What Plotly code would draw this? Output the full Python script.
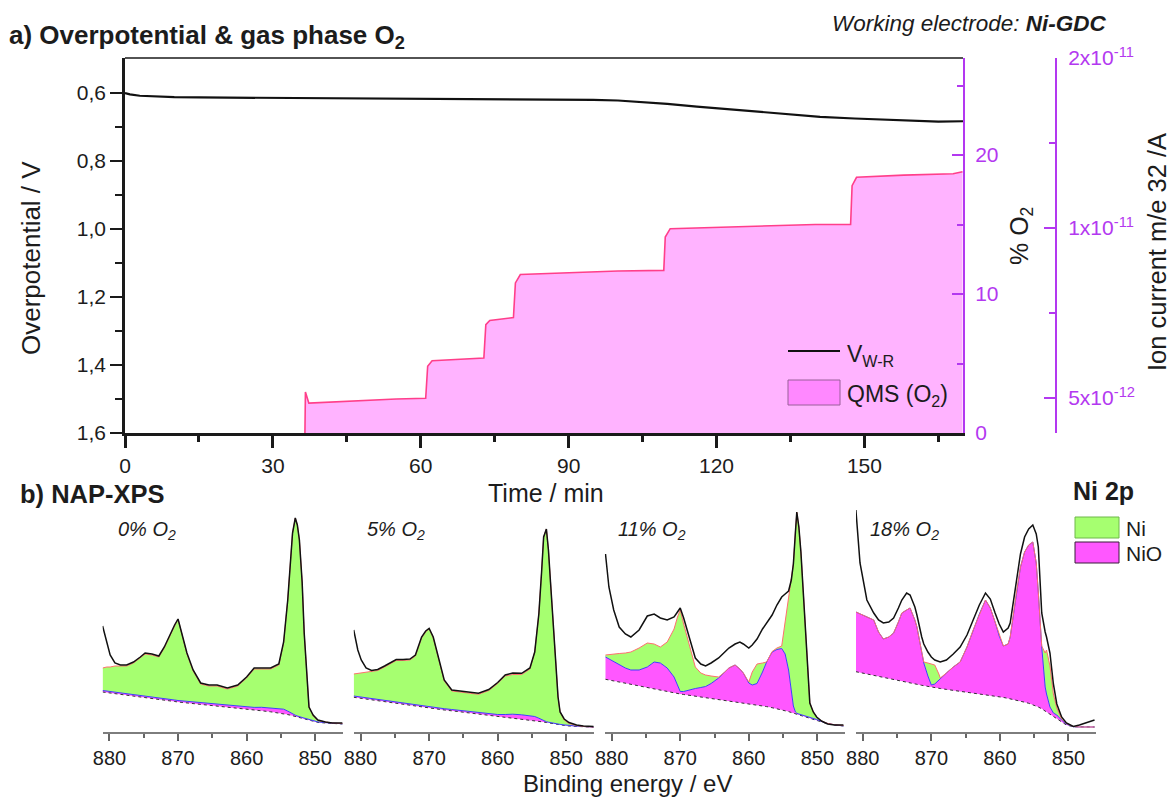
import plotly.graph_objects as go

W, H = 1173, 798
FONT = "Liberation Sans, Arial, Helvetica, sans-serif"
PURPLE = "#b338f0"
INK = "#1c1c1c"
GREEN = "#a6ff70"
MAGENTA = "#ff57ff"
NIO_LINE = "#3d3dff"
NI_LINE = "#ff6f6f"

# ---------------- a) overpotential & gas phase O2 ----------------
time_v = [0, 1, 3, 6, 10, 15, 25, 35, 45, 55, 65, 75, 85, 95, 100, 105, 110, 116,
          122, 128, 134, 141, 148, 154, 160, 165, 170]
overpot = [0.600, 0.604, 0.608, 0.610, 0.612, 0.613, 0.614, 0.615, 0.615, 0.616,
           0.616, 0.617, 0.618, 0.620, 0.622, 0.626, 0.632, 0.640, 0.647, 0.654,
           0.661, 0.670, 0.675, 0.678, 0.681, 0.684, 0.683]

time_qms = [36.5, 36.6, 37.3, 45, 55, 61.0, 61.4, 62.3, 68, 72.8, 73.2, 74.0, 78.8,
            79.2, 80.2, 90, 100, 109.3, 109.6, 110.6, 125, 140, 147.2, 147.5, 148.4,
            158, 168, 169.9]
o2_pct = [0, 2.95, 2.15, 2.3, 2.45, 2.5, 4.8, 5.2, 5.3, 5.4, 7.8, 8.1, 8.3, 10.8,
          11.4, 11.55, 11.65, 11.7, 14.1, 14.7, 14.85, 15.0, 15.0, 17.8, 18.4, 18.55,
          18.65, 18.8]

volt_ticks = [0.6, 0.8, 1.0, 1.2, 1.4, 1.6]
volt_labels = ["0,6", "0,8", "1,0", "1,2", "1,4", "1,6"]
time_ticks = [0, 30, 60, 90, 120, 150]
ion_ticks = [5e-12, 1e-11, 2e-11]
ion_labels = ["5x10<sup>-12</sup>", "1x10<sup>-11</sup>", "2x10<sup>-11</sup>"]

# ---------------- b) NAP-XPS Ni 2p spectra ----------------
panel_labels = ["0% O<sub>2</sub>", "5% O<sub>2</sub>", "11% O<sub>2</sub>", "18% O<sub>2</sub>"]
be_ticks = [880, 870, 860, 850]

be_0 = [881.0, 880.4, 879.9, 879.2, 878.4, 877.5, 876.5, 875.5, 874.8, 873.8, 872.8,
        872.0, 871.1, 870.5, 870.0, 869.4, 868.7, 867.8, 866.7, 865.5, 864.3, 862.8,
        861.3, 860.0, 858.9, 857.8, 856.5, 855.3, 854.6, 854.0, 853.6, 853.3, 852.9,
        852.6, 852.3, 851.9, 851.6, 851.2, 850.9, 850.3, 849.6, 848.5, 847.5, 846.0]
env_0 = [106, 89, 77, 69, 67, 67, 70, 75, 79, 78, 76, 85, 99, 107, 113, 98, 79, 62, 49,
         47, 47, 44, 47, 55, 64, 64, 64, 68, 90, 132, 175, 199, 214, 207, 192, 150, 99,
         55, 25, 17, 12, 10, 9, 9]
ni_0 = [64, 65, 65, 66, 66, 66, 69, 74, 78, 77, 75, 84, 98, 106, 113, 97, 78, 61, 48,
        46, 46, 43, 46, 54, 63, 63, 63, 67, 89, 132, 175, 199, 214, 207, 192, 150, 99,
        55, 25, 16, 11.5, 10, 9, 8.5]
nio_0 = [41.5, 41, 40.5, 40, 39, 38.3, 37.4, 36.5, 35.9, 35, 34.1, 33.3, 32.5, 32, 31.5,
         31.1, 30.6, 30, 29.2, 28.4, 27.5, 26.5, 25.5, 25, 24.6, 24.7, 24.2, 23.7, 22.8,
         20.9, 19.3, 17.8, 16.8, 16, 15.2, 14.5, 13.9, 13.2, 12.5, 11.2, 10.1, 9.4, 8.8, 8.2]
bg_0 = [40, 39.5, 39, 38.4, 37.6, 36.8, 35.9, 35, 34.4, 33.5, 32.6, 31.8, 31, 30.5, 30,
        29.6, 29.1, 28.5, 27.7, 26.9, 26, 25, 23.9, 23, 22.1, 21.2, 20.2, 19.2, 18.3,
        17.4, 16.8, 16.3, 15.6, 15, 14.4, 13.7, 13.1, 12.4, 11.8, 10.6, 9.6, 9, 8.5, 8]

be_5 = be_0
env_5 = [102, 82, 72, 64, 61.5, 62.5, 66, 70, 72.5, 72.5, 73, 77, 95, 101, 103.5, 95, 76,
         52, 42, 41, 40, 38.7, 42.5, 49.5, 57, 59, 58.7, 64, 80, 118, 160, 195, 203, 182,
         150, 108, 70, 35, 20, 13, 9.5, 7, 6, 5.5]
ni_5 = [58, 58.5, 59, 59.5, 60, 61.5, 65, 69, 71.5, 71.5, 72, 76, 94, 100, 103.5, 94, 75,
        51, 41, 40, 39, 37.7, 41.5, 48.5, 56, 57.5, 57.5, 63, 80, 118, 160, 195, 203, 182,
        150, 108, 70, 35, 20, 12, 8.5, 6.5, 5.5, 5]
nio_5 = [36, 35.4, 34.9, 34.3, 33.5, 32.6, 31.6, 30.6, 29.9, 28.9, 27.9, 27.1, 26.2, 25.6,
         25, 24.5, 23.9, 23.3, 22.5, 21.5, 20.6, 19.5, 18.3, 17.5, 17.5, 17.8, 17.2, 16.5,
         15.5, 13.8, 12.3, 11.2, 10.3, 9.8, 9.3, 8.9, 8.5, 8.1, 7.6, 7.1, 6.4, 5.9, 5.5, 5]
bg_5 = [34.7, 34.1, 33.6, 33, 32.2, 31.3, 30.3, 29.3, 28.6, 27.6, 26.6, 25.8, 24.9, 24.3,
        23.7, 23.2, 22.6, 22, 21.2, 20.2, 19.3, 18.2, 17, 16, 15.2, 14.4, 13.4, 12.3, 11.5,
        10.8, 10.3, 10, 9.5, 9.1, 8.7, 8.3, 7.9, 7.5, 7.1, 6.6, 6, 5.5, 5.2, 4.8]

be_11 = [880.9, 880.4, 879.7, 878.9, 878.0, 877.2, 876.0, 874.8, 873.8, 872.9, 871.9,
         870.9, 870.4, 870.0, 869.5, 869.0, 868.4, 867.8, 867.0, 866.3, 865.5, 864.4,
         863.5, 862.9, 862.0, 861.3, 860.8, 860.0, 859.5, 858.8, 858.0, 857.4, 856.6,
         855.9, 855.2, 854.7, 854.2, 853.8, 853.5, 853.2, 853.0, 852.7, 852.4, 852.1,
         851.8, 851.4, 851.1, 850.6, 850.1, 849.4, 848.5, 847.5, 846.2]
env_11 = [178, 145, 122, 105, 98, 95, 102, 116, 118, 114, 112, 115, 120, 124, 114, 102,
          87, 74, 68, 66, 69, 74, 80, 84, 88, 90, 88, 84, 87, 93, 103, 109, 117, 127, 135,
          138, 141, 152, 168, 200, 220, 205, 180, 145, 108, 62, 29, 20, 15, 11, 8, 7, 7]
ni_11 = [77, 77.5, 78, 78.5, 79, 80, 84, 89, 88, 85, 90, 103, 115, 122, 108, 95, 80, 65,
         59, 57, 56, 55, 60, 64, 67, 63, 59, 50, 60, 68, 69, 70, 80.5, 84, 86, 110, 138,
         152, 168, 200, 220, 205, 180, 145, 108, 62, 29, 20, 15, 11, 8.6, 7.3, 6.5]
nio_11 = [75, 73, 71, 67, 64, 62, 62, 65, 70, 69, 64, 55, 46, 40.5, 40.5, 41.5, 42.5, 43.5,
          44.5, 45.5, 48.5, 54, 60, 64, 67, 63, 59, 49, 47, 48.5, 60, 70, 80, 82.5, 83.5,
          78, 62, 40, 26, 20, 18.8, 18, 17.4, 16.8, 16.2, 15.4, 14.7, 13.6, 12.5, 10.6,
          8.5, 7.2, 6.1]
bg_11 = [52.7, 52, 51, 50, 48.7, 47.6, 46, 44.3, 43, 41.8, 40.5, 39.2, 38.5, 38, 37.5, 37,
         36.5, 35.9, 35.2, 34.5, 33.8, 32.8, 31.9, 31.4, 30.5, 29.9, 29.4, 28.7, 28.1, 27.2,
         26.3, 25.4, 24.3, 23.3, 22.3, 21.4, 20.4, 19.5, 18.9, 18.3, 17.8, 17.2, 16.6, 16,
         15.4, 14.6, 14, 13, 12, 10.2, 8.2, 7, 6]

be_18 = [881.0, 880.4, 879.4, 878.4, 877.7, 877.0, 876.2, 875.5, 874.8, 874.3, 873.6,
         873.1, 872.4, 872.1, 871.4, 871.1, 870.5, 870.0, 869.5, 868.9, 868.7, 867.8,
         866.8, 865.8, 864.8, 863.9, 863.0, 862.1, 861.4, 860.7, 860.1, 859.5, 858.8,
         858.5, 857.6, 857.0, 856.4, 855.8, 855.2, 854.7, 854.4, 853.9, 853.4, 853.2,
         852.7, 852.2, 851.7, 851.2, 851.0, 850.3, 849.3, 848.4, 847.4, 846.2]
env_18 = [222, 169, 132, 119, 112, 109, 110, 114, 124, 132, 139, 137, 125, 117, 95, 88, 80,
          75, 72, 70, 70, 72, 78, 85, 97, 112, 127, 139, 133, 119, 108, 100, 104, 109, 152,
          178, 195, 203, 207, 198, 185, 119, 100, 95, 79, 48, 28, 17, 15, 9, 5.5, 7, 9, 12]
ni_18 = [120, 118, 115, 112, 100, 93, 95, 99, 110, 119, 122, 124, 112, 105, 80, 70, 69,
         68, 67, 58, 54, 59, 65, 70, 85, 102, 118, 132, 124, 110, 96, 86, 88, 95, 139, 165,
         180, 187, 190, 169, 140, 86, 79, 82, 66, 38, 24, 15, 13, 8.5, 5.5, 5, 5, 5]
nio_18 = [120, 118, 115, 112, 100, 93, 95, 99, 110, 119, 122, 124, 112, 105, 80, 69, 56,
          47, 48, 52, 54, 59, 65, 70, 85, 102, 118, 132, 124, 110, 96, 86, 88, 95, 139, 165,
          180, 187, 190, 169, 140, 85, 45, 38, 25, 19, 17, 13, 12, 8, 5.3, 5, 5, 5]
bg_18 = [60.3, 59.4, 58, 56.6, 55.6, 54.6, 53.5, 52.5, 51.5, 50.8, 49.8, 49.1, 48.1, 47.7,
         46.7, 46.3, 45.4, 44.7, 44.2, 43.7, 43.5, 42.6, 41.7, 40.8, 39.9, 39, 38.2, 37.3,
         36.6, 36, 35.4, 34.6, 33.6, 33.2, 31.8, 30.8, 29.8, 28.7, 27.4, 26, 25, 23.2, 21,
         20, 17.5, 15.3, 13, 10.8, 10, 7, 5.3, 5, 5, 5]

spectra = [
    (be_0, env_0, ni_0, nio_0, bg_0),
    (be_5, env_5, ni_5, nio_5, bg_5),
    (be_11, env_11, ni_11, nio_11, bg_11),
    (be_18, env_18, ni_18, nio_18, bg_18),
]


def fx(x):
    return x / W


def fy(y):
    return 1 - y / H


fig = go.Figure()

# overpotential (left axis, reversed)
fig.add_trace(go.Scatter(x=time_v, y=overpot, mode="lines", xaxis="x", yaxis="y",
                         line=dict(color="#111111", width=2.2), showlegend=False))
# QMS O2 signal (% O2 axis)
fig.add_trace(go.Scatter(x=time_qms, y=o2_pct, mode="lines", xaxis="x", yaxis="y2",
                         fill="tozeroy", fillcolor="#ffb3ff",
                         line=dict(color="#ff3f8a", width=1.6), showlegend=False))
# ion-current axis carrier
fig.add_trace(go.Scatter(x=[None], y=[None], xaxis="x", yaxis="y3", showlegend=False,
                         hoverinfo="skip"))

# XPS panels
panel_x0 = [102.6, 353.7, 604.8, 855.9]
panel_w = 240
for i, (be, env, ni, nio, bg) in enumerate(spectra):
    xa = "x%d" % (i + 2)
    ya = "y%d" % (i + 4)
    fig.add_trace(go.Scatter(x=be, y=bg, mode="lines", xaxis=xa, yaxis=ya,
                             line=dict(color="#333333", width=1, dash="dot"),
                             showlegend=False))
    fig.add_trace(go.Scatter(x=be, y=nio, mode="lines", xaxis=xa, yaxis=ya,
                             fill="tonexty", fillcolor=MAGENTA,
                             line=dict(color=NIO_LINE, width=1), showlegend=False))
    fig.add_trace(go.Scatter(x=be, y=ni, mode="lines", xaxis=xa, yaxis=ya,
                             fill="tonexty", fillcolor=GREEN,
                             line=dict(color=NI_LINE, width=1), showlegend=False))
    fig.add_trace(go.Scatter(x=be, y=env, mode="lines", xaxis=xa, yaxis=ya,
                             line=dict(color="#111111", width=1.5), showlegend=False))

tick_font = dict(family=FONT, size=21, color=INK)

layout = dict(
    template="none",
    width=W, height=H, autosize=False,
    margin=dict(l=0, r=0, t=0, b=0, pad=0),
    paper_bgcolor="white", plot_bgcolor="rgba(0,0,0,0)",
    font=dict(family=FONT, color=INK),
    xaxis=dict(domain=[fx(125), fx(963)], anchor="y", range=[0, 170], automargin=False,
               showgrid=False, zeroline=False, showline=True, linecolor="#1a1a1a",
               linewidth=3, ticks="outside", ticklen=12, tickwidth=2.5,
               tickcolor="#1a1a1a", tickvals=time_ticks,
               ticktext=[str(t) for t in time_ticks], tickfont=tick_font,
               minor=dict(tickvals=[15, 45, 75, 105, 135, 165], ticks="outside",
                          ticklen=6, tickwidth=2.5, tickcolor="#1a1a1a")),
    yaxis=dict(domain=[fy(433), fy(58)], anchor="x", range=[1.6, 0.497], automargin=False,
               showgrid=False, zeroline=False, showline=True, linecolor="#1a1a1a",
               linewidth=2.5, ticks="outside", ticklen=12, tickwidth=2,
               tickcolor="#1a1a1a", tickvals=volt_ticks, ticktext=volt_labels,
               tickfont=tick_font,
               minor=dict(tickvals=[0.7, 0.9, 1.1, 1.3, 1.5], ticks="outside",
                          ticklen=7, tickwidth=2, tickcolor="#1a1a1a")),
    yaxis2=dict(overlaying="y", side="right", anchor="x", range=[0, 26.98],
                automargin=False, ticklabelstandoff=6,
                showgrid=False, zeroline=False, showline=True, linecolor=PURPLE,
                linewidth=2, ticks="inside", ticklen=11, tickwidth=2, tickcolor=PURPLE,
                tickvals=[0, 10, 20], ticktext=["0", "10", "20"],
                tickfont=dict(family=FONT, size=21, color=PURPLE),
                minor=dict(tickvals=[5, 15, 25], ticks="inside", ticklen=6,
                           tickwidth=2, tickcolor=PURPLE)),
    yaxis3=dict(overlaying="y", side="right", anchor="free", position=fx(1056),
                type="log", range=[-11.363, -10.699], automargin=False,
                ticklabelstandoff=7,
                showgrid=False, zeroline=False, showline=True, linecolor=PURPLE,
                linewidth=2, ticks="inside", ticklen=11, tickwidth=2, tickcolor=PURPLE,
                tickvals=ion_ticks, ticktext=ion_labels,
                tickfont=dict(family=FONT, size=21, color=PURPLE),
                minor=dict(tickvals=[7.07e-12, 1.414e-11], ticks="inside", ticklen=6,
                           tickwidth=2, tickcolor=PURPLE)),
)

for i in range(4):
    x0 = panel_x0[i]
    layout["xaxis%d" % (i + 2)] = dict(
        domain=[fx(x0), fx(x0 + panel_w)], anchor="y%d" % (i + 4), range=[881, 846],
        automargin=False,
        showgrid=False, zeroline=False, showline=True, linecolor="#7d7d7d", linewidth=2,
        ticks="outside", ticklen=7, tickwidth=1.5, tickcolor="#666666",
        tickvals=be_ticks, ticktext=[str(v) for v in be_ticks],
        tickfont=dict(family=FONT, size=20, color=INK),
        minor=dict(tickvals=[875, 865, 855], ticks="outside", ticklen=4, tickwidth=1.5,
                   tickcolor="#666666"))
    layout["yaxis%d" % (i + 4)] = dict(
        domain=[fy(732), fy(482)], anchor="x%d" % (i + 2), range=[0, 250],
        visible=False, automargin=False)

fig.update_layout(**layout)

annotations = []


def note(text, x, y, size, xanchor="left", angle=0, color=INK, yanchor="middle"):
    annotations.append(dict(text=text, x=fx(x), y=fy(y), xref="paper", yref="paper",
                            xanchor=xanchor, yanchor=yanchor, showarrow=False,
                            textangle=angle, borderpad=0,
                            font=dict(family=FONT, size=size, color=color)))


note("<b>a) Overpotential &amp; gas phase O<sub>2</sub></b>", 8, 37, 26)
note("<i>Working electrode: <b>Ni-GDC</b></i>", 1108, 23, 22.5, xanchor="right")
note("Overpotential / V", 31, 258, 26, xanchor="center", angle=-90)
note("Time / min", 546, 493, 25, xanchor="center")
note("% O<sub>2</sub>", 1021, 236, 25, xanchor="center", angle=-90)
note("Ion current m/e 32 /A", 1157, 252, 25.5, xanchor="center", angle=-90)
note("V<sub>W-R</sub>", 846, 355, 23)
note("QMS (O<sub>2</sub>)", 846, 395, 23)
note("<b>b) NAP-XPS</b>", 19, 494, 25.5)
note("<b>Ni 2p</b>", 1072, 491, 25)
note("Ni", 1125, 528, 21)
note("NiO", 1125, 553, 21)
note("Binding energy / eV", 627, 783, 24, xanchor="center")
label_x = [117, 366, 617, 869]
for lx, lab in zip(label_x, panel_labels):
    note("<i>" + lab + "</i>", lx, 530, 20)

shapes = [
    # top frame line of the upper panel
    dict(type="line", xref="paper", yref="paper", x0=fx(125), x1=fx(963),
         y0=fy(58), y1=fy(58), line=dict(color="#1a1a1a", width=1.6)),
    # legend keys, upper panel
    dict(type="line", xref="paper", yref="paper", x0=fx(788), x1=fx(840),
         y0=fy(351), y1=fy(351), line=dict(color="#111111", width=2)),
    dict(type="rect", xref="paper", yref="paper", x0=fx(788), x1=fx(840),
         y0=fy(405), y1=fy(380), fillcolor="#ff88ff", line=dict(color="#9a5e9a", width=1)),
    # legend keys, XPS
    dict(type="rect", xref="paper", yref="paper", x0=fx(1075), x1=fx(1119),
         y0=fy(538), y1=fy(517), fillcolor=GREEN, line=dict(color="#6fb84a", width=1)),
    dict(type="rect", xref="paper", yref="paper", x0=fx(1075), x1=fx(1119),
         y0=fy(563), y1=fy(542), fillcolor=MAGENTA, line=dict(color="#3a1d3a", width=1)),
]

fig.update_layout(annotations=annotations, shapes=shapes)
fig.write_html("out.html")
